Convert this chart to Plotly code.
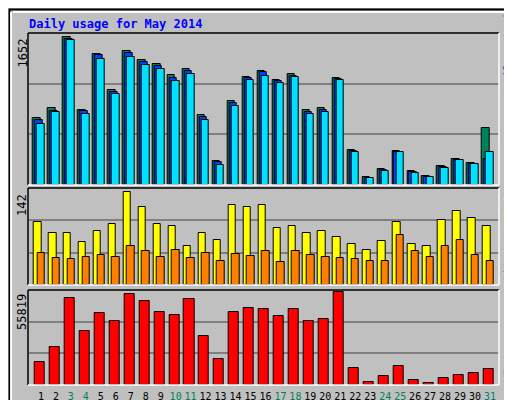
import plotly.graph_objects as go

days = list(range(1, 32))
hits = [748,860,1652,833,1461,1058,1499,1394,1349,1226,1293,777,273,934,1204,1271,1174,1237,833,860,1192,396,93,183,385,161,105,217,295,250,632]
files = [721,822,1633,822,1450,1035,1473,1372,1327,1192,1271,755,262,912,1192,1260,1159,1215,811,833,1185,385,82,172,374,150,93,206,284,239,295]
pages = [677,811,1618,789,1405,1013,1428,1338,1293,1159,1237,721,228,878,1170,1215,1136,1204,789,811,1170,374,82,161,363,138,93,194,284,239,374]
visits = [97,80,79,66,83,94,142,120,94,90,59,79,69,123,120,122,88,91,80,83,74,63,54,68,97,63,60,100,114,103,91]
sites = [49,42,40,43,46,43,60,52,43,54,42,49,37,48,45,52,35,52,46,43,42,40,37,37,77,52,43,60,69,46,37]
kbytes = [14110,22700,52150,32515,43560,38650,54600,50300,44170,42330,51530,29450,15950,44170,46630,46010,41720,46010,38650,39880,55819,10430,1840,5520,11660,3070,1230,4290,6135,7360,9820]
weekend = {3,4,10,11,17,18,24,25,31}
tick_text = [f'<span style="color:{"#00805C" if d in weekend else "black"}">{d}</span>' for d in days]

FONT = "DejaVu Sans Mono"
fig = go.Figure()
def bar(y, color, off, w, ya):
    fig.add_trace(go.Bar(x=days, y=y, marker=dict(color=color, line=dict(color="black", width=1)),
                         offset=off, width=w, yaxis=ya, xaxis="x", showlegend=False, hoverinfo="skip"))
bar(hits, "#00805C", 0.0, 0.5, "y")
bar(files, "#0040FF", 0.13, 0.5, "y")
bar(pages, "#00E0FF", 0.27, 0.5, "y")
bar(visits, "#FFFF00", 0.05, 0.5, "y2")
bar(sites, "#FF8000", 0.29, 0.5, "y2")
bar(kbytes, "#FF0000", 0.1, 0.67, "y3")

xr = [0.713, 32.113]
dom = [20.7/512, 490.7/512]
def yax(lo, hi, mx):
    return dict(domain=[1-lo/400, 1-hi/400], range=[0, mx], tickvals=[mx/3, 2*mx/3],
                showticklabels=False, ticks="", showgrid=True, gridcolor="#808080", gridwidth=1.5,
                zeroline=False, showline=False, fixedrange=True, automargin=False)
fig.update_layout(
    width=512, height=400, margin=dict(l=0, r=0, t=0, b=0, autoexpand=False), autosize=False,
    paper_bgcolor="#C0C0C0", plot_bgcolor="#C0C0C0", barmode="overlay", bargap=0,
    font=dict(family=FONT, size=12, color="black"),
    xaxis=dict(domain=dom, range=xr, tickvals=[d+0.53 for d in days], ticktext=tick_text,
               anchor="y3", showgrid=False, zeroline=False, ticks="", tickangle=0, automargin=False,
               ticklabelstandoff=4, tickfont=dict(size=10, family=FONT)),
    yaxis=yax(177, 25, 1697),
    yaxis2=yax(277, 180, 148.6),
    yaxis3=yax(377, 282, 57200),
)
shapes = []
for top, bot in [(25,177),(180,277),(282,377)]:
    shapes.append(dict(type="line", xref="paper", yref="paper", x0=20/512, x1=491/512, y0=1-top/400, y1=1-top/400, line=dict(color="black", width=1.5)))
    shapes.append(dict(type="line", xref="paper", yref="paper", x0=20/512, x1=20/512, y0=1-top/400, y1=1-bot/400, line=dict(color="black", width=1.5)))
    shapes.append(dict(type="line", xref="paper", yref="paper", x0=20/512, x1=491/512, y0=1-bot/400, y1=1-bot/400, line=dict(color="white", width=1.5)))
    shapes.append(dict(type="line", xref="paper", yref="paper", x0=491/512, x1=491/512, y0=1-top/400, y1=1-bot/400, line=dict(color="white", width=1.5)))
shapes.append(dict(type="rect", xref="paper", yref="paper", x0=0.003, x1=0.997, y0=0.004, y1=0.996, line=dict(color="black", width=2)))
shapes.append(dict(type="line", xref="paper", yref="paper", x0=0.01, x1=0.99, y0=0.99, y1=0.99, line=dict(color="white", width=2)))
shapes.append(dict(type="line", xref="paper", yref="paper", x0=0.006, x1=0.006, y0=0.01, y1=0.99, line=dict(color="white", width=2)))
shapes.append(dict(type="line", xref="paper", yref="paper", x0=0.993, x1=0.993, y0=0.01, y1=0.99, line=dict(color="#808080", width=2)))
shapes.append(dict(type="line", xref="paper", yref="paper", x0=0.01, x1=0.99, y0=0.012, y1=0.012, line=dict(color="#808080", width=2)))
fig.update_layout(shapes=shapes)

ann = [
    dict(text="<b>Daily usage for May 2014</b>", x=19/512, y=1-16/400, xanchor="left", yanchor="middle",
         font=dict(color="#0000FF", size=12, family=FONT)),
    dict(text="1652", x=14/512, y=1-29/400, textangle=-90, xanchor="center", yanchor="top", font=dict(size=12, family=FONT)),
    dict(text="142", x=14/512, y=1-184/400, textangle=-90, xanchor="center", yanchor="top", font=dict(size=12, family=FONT)),
    dict(text="55819", x=14/512, y=1-284/400, textangle=-90, xanchor="center", yanchor="top", font=dict(size=12, family=FONT)),
    dict(text='<span style="color:#00E0FF">Pages</span> / <span style="color:#0040FF">Files</span> / <span style="color:#00805C">Hits</span>',
         x=500/512, y=1-137/400, textangle=-90, xanchor="center", yanchor="bottom", font=dict(size=12, family=FONT)),
    dict(text='<span style="color:#FF8000">Sites</span> / <span style="color:#FFFF00">Visits</span>',
         x=500/512, y=1-277/400, textangle=-90, xanchor="center", yanchor="bottom", font=dict(size=12, family=FONT)),
    dict(text='<span style="color:#FF0000">KBytes</span>',
         x=500/512, y=1-377/400, textangle=-90, xanchor="center", yanchor="bottom", font=dict(size=12, family=FONT)),
]
for a in ann:
    a.update(xref="paper", yref="paper", showarrow=False)
fig.update_layout(annotations=ann)
fig.write_html("out.html")
